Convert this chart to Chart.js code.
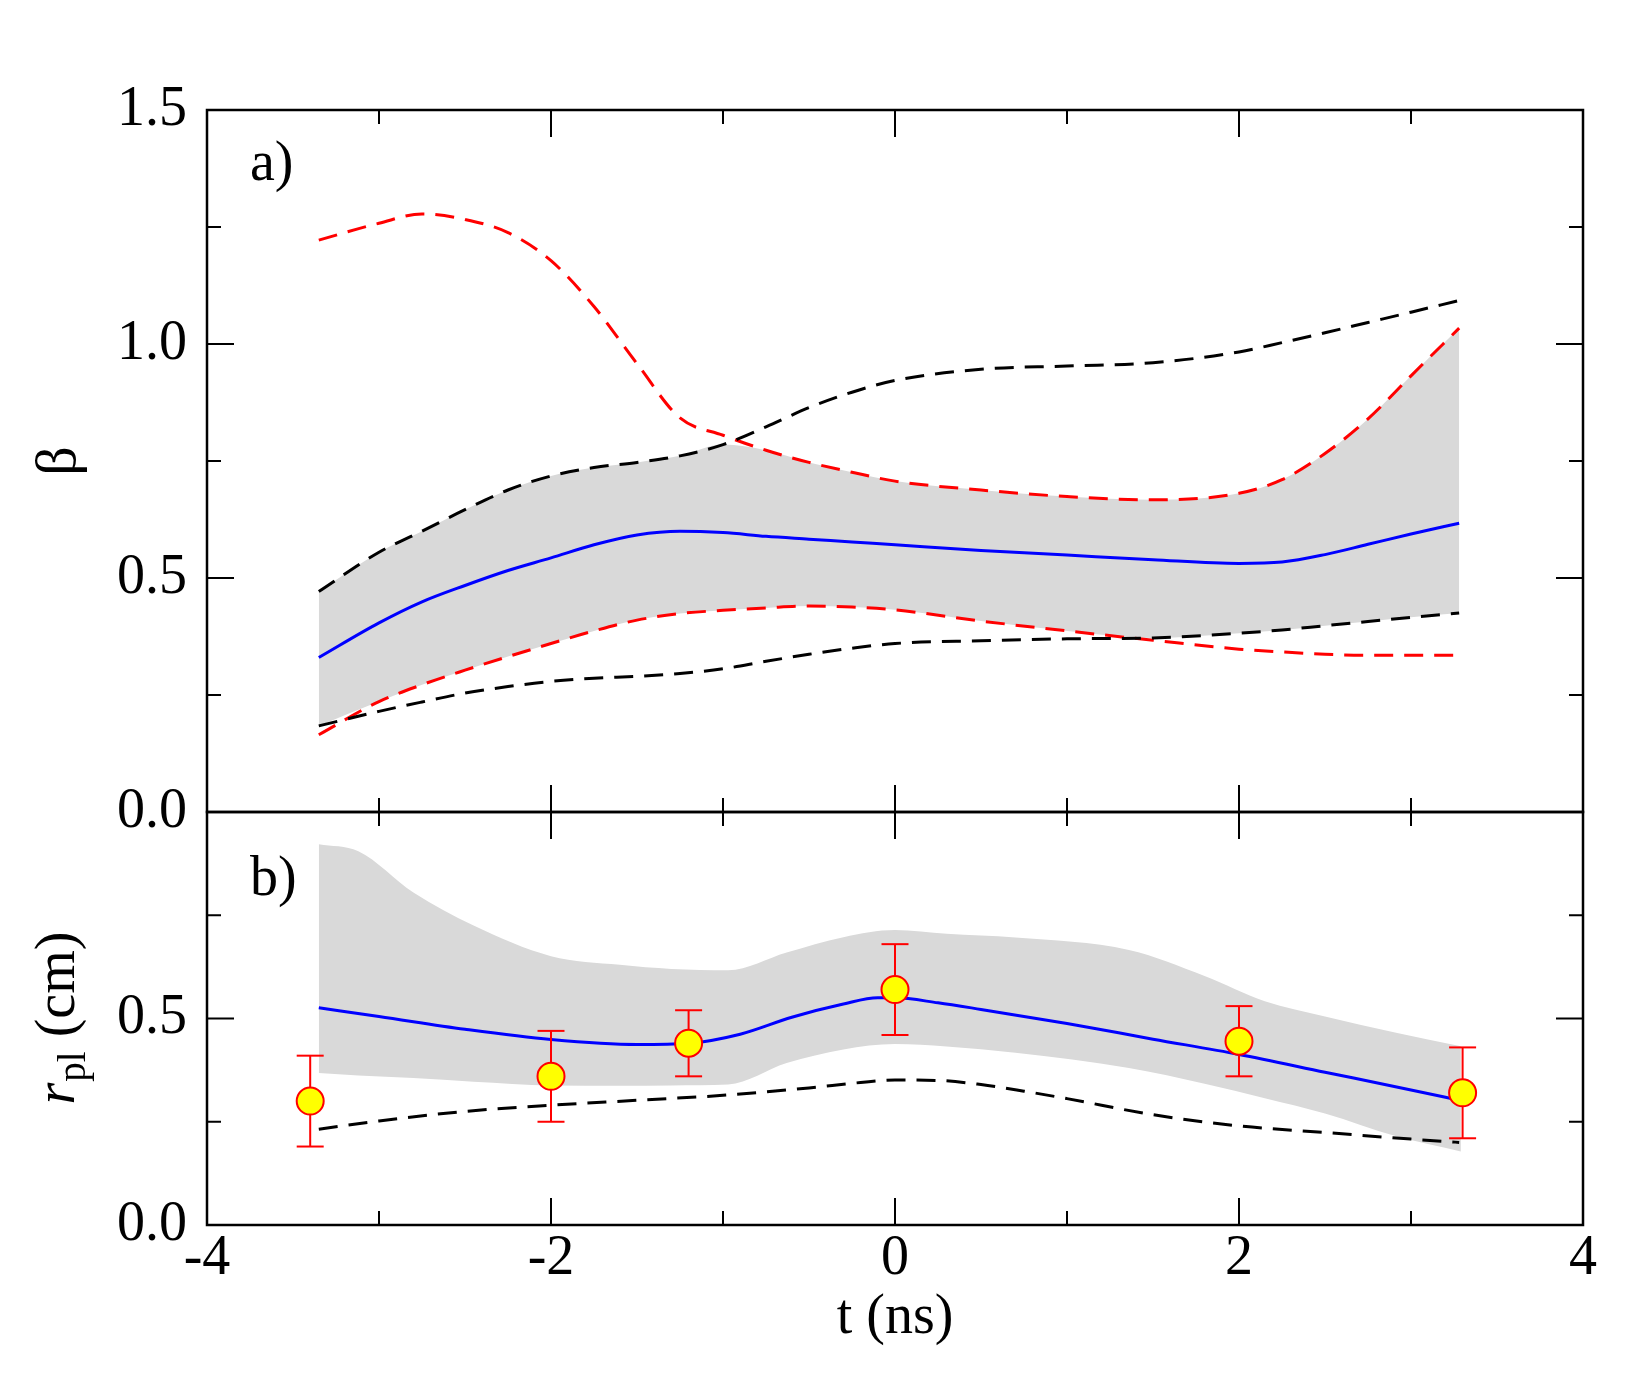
<!DOCTYPE html>
<html>
<head>
<meta charset="utf-8">
<script src="https://cdn.jsdelivr.net/npm/chart.js@4.4.1/dist/chart.umd.min.js"></script>
<style>
  html, body { margin: 0; padding: 0; background: #fff; }
  #wrap { position: relative; width: 1652px; height: 1377px; }
  #wrap canvas { position: absolute; left: 0; top: 0; }
</style>
</head>
<body>
<div id="wrap">
  <canvas id="panelA" width="1652" height="1377"></canvas>
  <canvas id="panelB" width="1652" height="1377"></canvas>
</div>
<script>
// ---- panel a): beta(t), every curve sampled on the same t grid ----
const tA = [-3.35, -3.0, -2.75, -2.5, -2.25, -2.0, -1.75, -1.5, -1.25, -1.0, -0.75, -0.5, -0.25, 0, 0.5, 1.0, 1.5, 2.0, 2.25, 2.5, 2.75, 3.0, 3.28];
const betaFit = [0.330, 0.404, 0.449, 0.484, 0.516, 0.543, 0.571, 0.592, 0.600, 0.597, 0.589, 0.583, 0.577, 0.571, 0.559, 0.549, 0.539, 0.531, 0.534, 0.550, 0.572, 0.594, 0.617];
const betaHiBlack = [0.471, 0.555, 0.600, 0.646, 0.688, 0.718, 0.736, 0.747, 0.761, 0.785, 0.823, 0.864, 0.897, 0.922, 0.946, 0.953, 0.960, 0.983, 1.003, 1.024, 1.046, 1.068, 1.093];
const betaLoBlack = [0.184, 0.215, 0.235, 0.254, 0.268, 0.279, 0.286, 0.290, 0.296, 0.306, 0.322, 0.337, 0.350, 0.360, 0.366, 0.370, 0.372, 0.382, 0.389, 0.398, 0.407, 0.416, 0.425];
const betaHiRed = [1.222, 1.258, 1.278, 1.266, 1.238, 1.178, 1.080, 0.958, 0.842, 0.805, 0.773, 0.747, 0.726, 0.707, 0.688, 0.674, 0.667, 0.681, 0.710, 0.766, 0.840, 0.932, 1.034];
const betaLoRed = [0.165, 0.236, 0.272, 0.303, 0.332, 0.360, 0.387, 0.410, 0.424, 0.431, 0.436, 0.440, 0.438, 0.432, 0.408, 0.387, 0.367, 0.348, 0.342, 0.337, 0.335, 0.335, 0.335];

// ---- panel b): r_pl(t) ----
const tFitB = [-3.35, -3.0, -2.5, -2.0, -1.5, -1.2, -0.9, -0.6, -0.3, -0.1, 0, 0.25, 0.5, 1.0, 1.5, 2.0, 2.5, 3.0, 3.28];
const rFit = [0.526, 0.505, 0.474, 0.449, 0.437, 0.440, 0.462, 0.503, 0.535, 0.550, 0.550, 0.538, 0.522, 0.488, 0.450, 0.413, 0.370, 0.327, 0.302];
const tBlackB = [-3.35, -3.0, -2.5, -2.0, -1.5, -1.0, -0.5, -0.2, 0, 0.25, 0.5, 0.75, 1.0, 1.5, 2.0, 2.5, 3.0, 3.28];
const rLoBlack = [0.232, 0.252, 0.275, 0.290, 0.302, 0.314, 0.332, 0.345, 0.351, 0.350, 0.340, 0.324, 0.306, 0.267, 0.240, 0.224, 0.208, 0.200];
const tBandB = [-3.35, -3.12, -2.8, -2.45, -2.0, -1.6, -1.3, -0.97, -0.63, -0.3, 0, 0.3, 0.7, 1.36, 1.8, 2.15, 2.5, 2.92, 3.29];
const rBandHi = [0.922, 0.905, 0.805, 0.725, 0.651, 0.630, 0.620, 0.617, 0.660, 0.697, 0.714, 0.705, 0.696, 0.666, 0.603, 0.542, 0.505, 0.465, 0.433];
const rBandLo = [0.368, 0.362, 0.356, 0.347, 0.338, 0.337, 0.338, 0.340, 0.392, 0.425, 0.438, 0.432, 0.417, 0.380, 0.342, 0.307, 0.270, 0.214, 0.178];
const tPts = [-3.4, -2.0, -1.2, 0.0, 2.0, 3.3];
const rPts = [0.30, 0.36, 0.44, 0.57, 0.445, 0.32];
const rErr = [0.11, 0.11, 0.08, 0.11, 0.085, 0.11];

// ---- axes ----
const xTicks = [-4, -2, 0, 2, 4];
const yTicksA = [0, 0.5, 1.0, 1.5];
const yTicksB = [0, 0.5, 1.0];
const yLabelsB = [0, 0.5];

const pts = (xs, ys) => xs.map((x, i) => ({ x, y: ys[i] }));
// grey band in a) is the overlap of the two envelopes
const bandHiA = betaHiBlack.map((v, i) => Math.min(v, betaHiRed[i]));
const bandLoA = betaLoBlack.map((v, i) => Math.max(v, betaLoRed[i]));

Chart.defaults.font.family = "'Liberation Serif', 'Times New Roman', serif";
Chart.defaults.font.size = 56;
Chart.defaults.color = '#000';

const GREY = '#d9d9d9';
const DASH = [19, 11];
const MAJOR = 27, MINOR = 14;

const mids = arr => arr.slice(1).map((v, i) => (v + arr[i]) / 2);

// frame and inward tick marks on all four sides
const frameTicks = {
  id: 'frameTicks',
  afterDatasetsDraw(chart, args, opts) {
    const { ctx, chartArea: a, scales: { x, y } } = chart;
    ctx.save();
    ctx.strokeStyle = '#000';
    ctx.lineWidth = 2;
    ctx.beginPath();
    const xt = (vals, len) => vals.forEach(v => {
      const px = x.getPixelForValue(v);
      ctx.moveTo(px, a.top); ctx.lineTo(px, a.top + len);
      ctx.moveTo(px, a.bottom); ctx.lineTo(px, a.bottom - len);
    });
    const yt = (vals, len) => vals.forEach(v => {
      const py = y.getPixelForValue(v);
      ctx.moveTo(a.left, py); ctx.lineTo(a.left + len, py);
      ctx.moveTo(a.right, py); ctx.lineTo(a.right - len, py);
    });
    xt(xTicks, MAJOR); xt(mids(xTicks), MINOR);
    yt(opts.yTicks, MAJOR); yt(mids(opts.yTicks), MINOR);
    ctx.stroke();
    ctx.lineWidth = 2.5;
    ctx.strokeRect(a.left, a.top, a.width, a.height);
    ctx.restore();
  }
};

// "a)" / "b)" and the r_pl axis title
const panelText = {
  id: 'panelText',
  afterDraw(chart, args, opts) {
    const { ctx, chartArea: a } = chart;
    ctx.save();
    ctx.fillStyle = '#000';
    ctx.textBaseline = 'alphabetic';
    ctx.font = "56px 'Liberation Serif'";
    ctx.fillText(opts.label, a.left + 43, a.top + opts.dy);
    if (opts.rTitle) {
      const big = "56px 'Liberation Serif'", ital = "italic 56px 'Liberation Serif'", sub = "39px 'Liberation Serif'";
      ctx.font = ital; const w1 = ctx.measureText('r').width;
      ctx.font = sub; const w2 = ctx.measureText('pl').width;
      ctx.font = big; const w3 = ctx.measureText(' (cm)').width;
      const total = w1 + w2 + w3;
      ctx.translate(74, (a.top + a.bottom) / 2);
      ctx.rotate(-Math.PI / 2);
      let px = -total / 2;
      ctx.font = ital; ctx.fillText('r', px, 0); px += w1 + 1;
      ctx.font = sub; ctx.fillText('pl', px, 11); px += w2;
      ctx.font = big; ctx.fillText(' (cm)', px, 0);
    }
    ctx.restore();
  }
};

const lineDs = (data, color, dashed, order) => ({
  data, borderColor: color, borderWidth: 3, borderDash: dashed ? DASH : [],
  pointRadius: 0, fill: false, cubicInterpolationMode: 'monotone', order
});

const yAxis = (max, ticks, extra) => Object.assign({
  type: 'linear', min: 0, max,
  grid: { display: false, drawTicks: false },
  border: { display: false },
  afterBuildTicks: s => { s.ticks = ticks.map(value => ({ value })); },
  afterFit: s => { s.width = 207; },
  ticks: { padding: 20, callback: v => Number(v).toFixed(1) }
}, extra);

// ---- panel a) ----
new Chart(document.getElementById('panelA'), {
  type: 'line',
  data: {
    datasets: [
      lineDs(pts(tA, betaFit), '#0000ff', false, 1),
      lineDs(pts(tA, betaHiBlack), '#000', true, 2),
      lineDs(pts(tA, betaLoBlack), '#000', true, 2),
      lineDs(pts(tA, betaHiRed), '#ff0000', true, 2),
      lineDs(pts(tA, betaLoRed), '#ff0000', true, 2),
      Object.assign(lineDs(pts(tA, bandHiA), GREY, false, 10), { borderWidth: 0, fill: '+1', backgroundColor: GREY }),
      Object.assign(lineDs(pts(tA, bandLoA), GREY, false, 10), { borderWidth: 0 })
    ]
  },
  options: {
    responsive: false, animation: false,
    layout: { padding: { left: 0, right: 69, top: 110, bottom: 565 } },
    scales: {
      x: { type: 'linear', min: -4, max: 4, display: false },
      y: yAxis(1.5, yTicksA, {
        title: { display: true, text: 'β', font: { size: 58, lineHeight: 1 }, padding: { top: 31, bottom: 0 } }
      })
    },
    plugins: {
      legend: { display: false }, tooltip: { enabled: false },
      frameTicks: { yTicks: yTicksA },
      panelText: { label: 'a)', dy: 70 }
    }
  },
  plugins: [frameTicks, panelText]
});

// ---- panel b) ----
const errData = [];
tPts.forEach((t, i) => {
  errData.push({ x: t, y: rPts[i] - rErr[i] }, { x: t, y: rPts[i] + rErr[i] }, { x: t, y: null });
});

new Chart(document.getElementById('panelB'), {
  type: 'line',
  data: {
    datasets: [
      { data: pts(tPts, rPts), showLine: false, pointRadius: 13.5, pointBackgroundColor: '#ffff00',
        pointBorderColor: '#ff0000', pointBorderWidth: 2, order: 0 },
      { data: errData, borderColor: '#ff0000', borderWidth: 2, spanGaps: false, pointStyle: 'line',
        pointRadius: 13.5, pointBorderColor: '#ff0000', pointBorderWidth: 2, fill: false, order: 1 },
      lineDs(pts(tFitB, rFit), '#0000ff', false, 2),
      lineDs(pts(tBlackB, rLoBlack), '#000', true, 3),
      Object.assign(lineDs(pts(tBandB, rBandHi), GREY, false, 10), { borderWidth: 0, fill: '+1', backgroundColor: GREY }),
      Object.assign(lineDs(pts(tBandB, rBandLo), GREY, false, 10), { borderWidth: 0 })
    ]
  },
  options: {
    responsive: false, animation: false,
    layout: { padding: { left: 0, right: 69, top: 812, bottom: 0 } },
    scales: {
      x: {
        type: 'linear', min: -4, max: 4,
        grid: { display: false, drawTicks: false },
        border: { display: false },
        afterBuildTicks: s => { s.ticks = xTicks.map(value => ({ value })); },
        afterFit: s => { s.height = 152; },
        ticks: { padding: 1, maxRotation: 0, autoSkip: false },
        title: { display: true, text: 't (ns)', padding: { top: 0, bottom: 25 } }
      },
      y: yAxis(1.0, yLabelsB, {})
    },
    plugins: {
      legend: { display: false }, tooltip: { enabled: false },
      frameTicks: { yTicks: yTicksB },
      panelText: { label: 'b)', dy: 83, rTitle: true }
    }
  },
  plugins: [frameTicks, panelText]
});
</script>
</body>
</html>
